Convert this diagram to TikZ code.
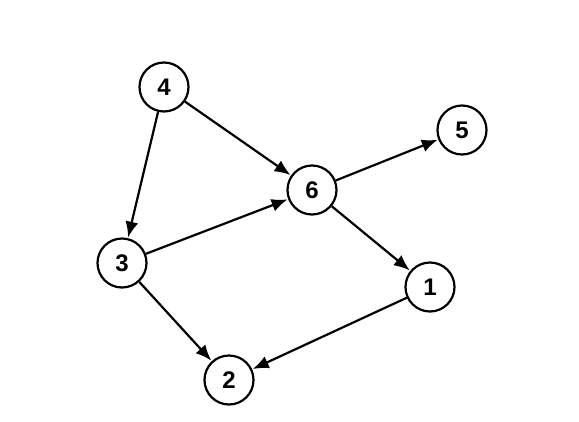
\documentclass[tikz,border=0pt]{standalone}
\usepackage{fontspec}
\setsansfont{Liberation Sans}
\usetikzlibrary{arrows.meta}
\begin{document}
\begin{tikzpicture}[x=1pt,y=-1pt,
  vertex/.style={circle,draw,line width=2.2pt,minimum size=49pt,inner sep=0pt,font=\sffamily\bfseries\fontsize{24}{24}\selectfont},
  edge/.style={line width=2.2pt,-{Latex[length=16pt,width=13pt]},shorten >=0.5pt}]
\useasboundingbox (0,0) rectangle (579,421);
\node[vertex] (n4) at (164,87) {4};
\node[vertex] (n5) at (462,130) {5};
\node[vertex] (n6) at (312,190) {6};
\node[vertex] (n3) at (122,263) {3};
\node[vertex] (n1) at (430,287) {1};
\node[vertex] (n2) at (229,380) {2};
\draw[edge] (n4) -- (n3);
\draw[edge] (n4) -- (n6);
\draw[edge] (n3) -- (n6);
\draw[edge] (n6) -- (n5);
\draw[edge] (n6) -- (n1);
\draw[edge] (n3) -- (n2);
\draw[edge] (n1) -- (n2);
\end{tikzpicture}
\end{document}
